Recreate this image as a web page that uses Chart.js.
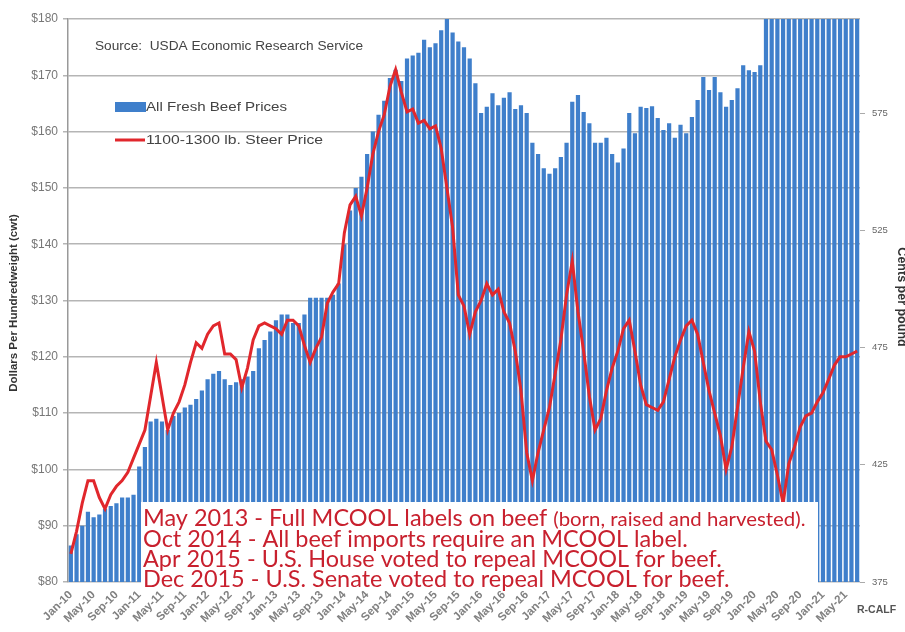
<!DOCTYPE html>
<html>
<head>
<meta charset="utf-8">
<script src="https://cdn.jsdelivr.net/npm/chart.js@4.4.1/dist/chart.umd.min.js"></script>
<style>
html,body{margin:0;padding:0;background:#fff;}
canvas{display:block;}
</style>
</head>
<body>
<canvas id="c" width="905" height="632"></canvas>
<script>
// ---------- data ----------
const monthNames = ['Jan','Feb','Mar','Apr','May','Jun','Jul','Aug','Sep','Oct','Nov','Dec'];
const yearNames = ['10','11','12','13','14','15','16','17','18','19','20','21'];
const monthCount = 139; // Jan-10 .. Jul-21
const categories = [];
for (const yy of yearNames) for (const mm of monthNames) {
  if (categories.length < monthCount) categories.push(mm + '-' + yy);
}

const beefPrices = [
  86.5, 88.5, 90, 92.5, 91.5, 92, 93, 93.5, 94, 95, 95, 95.5,
  100.5, 104, 108.5, 109, 108.5, 107, 109.5, 110, 111, 111.5, 112.5, 114,
  116, 117, 117.5, 116, 115, 115.5, 116, 116.5, 117.5, 121.5, 123, 124.5,
  126.5, 127.5, 127.5, 126, 126, 127.5, 130.5, 130.5, 130.5, 130.5, 131, 133,
  140, 146, 150, 152, 156, 160, 163, 165.5, 169.5, 171, 169, 173,
  173.5, 174, 176.3, 175, 175.7, 178, 180, 177.6, 176, 175, 173, 168.6,
  163.3, 164.4, 166.8, 164.7, 166, 167, 164, 164.7, 163.3, 158, 156, 153.5,
  152.5, 153.5, 155.5, 158, 165.3, 166.5, 163.5, 161.5, 158, 158, 158.9, 156,
  154.5, 157, 163.3, 159.7, 164.4, 164.2, 164.5, 162.4, 160.3, 161.5, 158.9, 161.2,
  159.7, 162.6, 165.6, 169.7, 167.4, 169.7, 167, 164.4, 165.6, 167.7, 171.8, 170.9,
  170.6, 171.8, 183, 186, 188, 190, 187, 185, 184, 186, 188, 187,
  185, 186, 188, 189, 187, 186, 188
];

const steerPrices = [
  85, 89, 94, 98, 98, 95, 93, 95.5, 97, 98, 99.5, 102,
  104.5, 107, 113, 119, 113, 107, 110, 112, 115, 119, 122.5, 121.5,
  124, 125.5, 126, 120.5, 120.5, 119.5, 114.5, 118, 123, 125.5, 126, 125.5,
  125, 124, 126.5, 126.5, 125.5, 122, 119, 121.5, 123.5, 129.5, 131.5, 133,
  142, 147, 148.5, 145, 150, 156, 160, 163, 168, 171, 167, 163.5,
  164, 161.5, 162, 160.5, 161, 157, 150, 143, 131, 129, 124, 128,
  130, 133, 131, 132, 128, 126, 121, 114, 103, 98, 103, 107,
  111, 117, 123, 131, 137, 128, 121, 113, 107, 109, 114, 118,
  121, 125, 126.5, 121, 115, 111.5, 111, 110.5, 112, 116, 120, 123,
  125.5, 126.5, 124, 119, 114, 110, 106, 100, 104, 111, 118, 124.5,
  121, 112, 105, 103.5, 99, 94, 101, 104, 107.5, 109.5, 110, 112,
  113.6, 116, 118.5, 120, 120, 120.5, 121
];

const leftTickValues = [80, 90, 100, 110, 120, 130, 140, 150, 160, 170, 180];
const rightTickValues = [375, 425, 475, 525, 575];
const rightTickLabels = ['375', '425', '475', '525', '575'];

const seriesNames = ['All Fresh Beef Prices', '1100-1300 lb. Steer Price'];
const leftAxisTitle = 'Dollars Per Hundredweight (cwt)';
const rightAxisTitle = 'Cents per pound';
const sourceText = 'Source:  USDA Economic Research Service';
const brandText = 'R-CALF';
const annotationLines = [
  [['May 2013', 'big'], [' - Full MCOOL labels on beef ', 'big'], ['(born, raised and harvested).', 'small']],
  [['Oct 2014', 'big'], [' - All beef imports require an MCOOL label.', 'big']],
  [['Apr 2015', 'big'], [' - U.S. House voted to repeal MCOOL for beef.', 'big']],
  [['Dec 2015', 'big'], [' - U.S. Senate voted to repeal MCOOL for beef.', 'big']]
];

// ---------- colours ----------
const BAR_BLUE = '#3f7fcb';
const LINE_RED = '#e1272c';
const NOTE_RED = '#c8202e';
const SANS = '"Liberation Sans", Arial, sans-serif';

function fitText(ctx, text, x, y, width) {
  const w = ctx.measureText(text).width;
  ctx.save();
  ctx.translate(x, y);
  ctx.scale(width / w, 1);
  ctx.fillText(text, 0, 0);
  ctx.restore();
}

// ---------- decorations ----------
const decor = {
  id: 'decor',
  afterDraw(chart) {
    const ctx = chart.ctx;
    ctx.save();

    // source
    ctx.fillStyle = '#444';
    ctx.font = '12px ' + SANS;
    ctx.textBaseline = 'middle';
    ctx.textAlign = 'left';
    fitText(ctx, sourceText, 95, 47, 268);

    // legend
    const ds = chart.data.datasets;
    ctx.fillStyle = ds[0].backgroundColor;
    ctx.fillRect(115, 102, 31, 10);
    ctx.fillStyle = '#444';
    ctx.font = '13px ' + SANS;
    fitText(ctx, ds[0].label, 146, 107, 141);
    ctx.strokeStyle = ds[1].borderColor;
    ctx.lineWidth = 3;
    ctx.beginPath(); ctx.moveTo(115, 140); ctx.lineTo(145, 140); ctx.stroke();
    fitText(ctx, ds[1].label, 146, 140, 177);

    // left axis title
    ctx.save();
    ctx.translate(14, 303);
    ctx.rotate(-Math.PI / 2);
    ctx.textAlign = 'center';
    ctx.font = 'bold 11.5px ' + SANS;
    ctx.fillStyle = '#333';
    ctx.fillText(leftAxisTitle, 0, 0);
    ctx.restore();

    // right axis title (partly off canvas as in the source)
    ctx.save();
    ctx.translate(901, 297);
    ctx.rotate(Math.PI / 2);
    ctx.textAlign = 'center';
    ctx.font = 'bold 12.5px ' + SANS;
    ctx.fillStyle = '#333';
    ctx.fillText(rightAxisTitle, 0, 0);
    ctx.restore();

    // brand
    ctx.font = 'bold 10.5px ' + SANS;
    ctx.fillStyle = '#555';
    ctx.fillText(brandText, 857, 610);

    // annotation box
    ctx.fillStyle = '#fff';
    ctx.fillRect(141, 502, 677, 89);
    ctx.textBaseline = 'alphabetic';
    const sizes = { big: 23, small: 20 };
    const baselines = [526, 547, 567, 587];
    const sx = 1.02;
    annotationLines.forEach((parts, li) => {
      let x = 0;
      ctx.save();
      ctx.translate(143, baselines[li]);
      ctx.scale(sx, 1);
      ctx.fillStyle = NOTE_RED;
      for (const [txt, sz] of parts) {
        ctx.font = sizes[sz] + 'px Lato, "Open Sans", sans-serif';
        ctx.fillText(txt, x, 0);
        x += ctx.measureText(txt).width;
      }
      ctx.restore();
    });

    ctx.restore();
  }
};

new Chart(document.getElementById('c'), {
  data: {
    labels: categories,
    datasets: [
      {
        type: 'bar',
        label: seriesNames[0],
        data: beefPrices,
        backgroundColor: BAR_BLUE,
        borderWidth: 0,
        barPercentage: 0.74,
        categoryPercentage: 1,
        yAxisID: 'y',
        order: 2
      },
      {
        type: 'line',
        label: seriesNames[1],
        data: steerPrices,
        borderColor: LINE_RED,
        backgroundColor: LINE_RED,
        borderWidth: 3,
        pointRadius: 0,
        tension: 0,
        yAxisID: 'y',
        order: 1
      }
    ]
  },
  options: {
    responsive: false,
    devicePixelRatio: 1,
    animation: false,
    layout: { padding: { top: 19, left: 0, right: 0, bottom: 0 } },
    plugins: { legend: { display: false }, tooltip: { enabled: false }, title: { display: false } },
    scales: {
      x: {
        type: 'category',
        offset: true,
        grid: { display: false, drawTicks: false },
        border: { display: false },
        ticks: {
          autoSkip: false,
          maxRotation: 45,
          minRotation: 45,
          padding: 6,
          color: '#808080',
          font: { size: 11.5, family: SANS, weight: 'bold' },
          callback: (v, i) => (i % 4 === 0 ? categories[i] : '')
        },
        afterFit: s => { s.height = 50; }
      },
      y: {
        position: 'left',
        min: 80,
        max: 180,
        afterBuildTicks: s => { s.ticks = leftTickValues.map(v => ({ value: v })); },
        grid: { color: '#b5b5b5', lineWidth: 1.5, tickLength: 5, drawTicks: true },
        border: { color: '#999', width: 1.5 },
        ticks: {
          color: '#777',
          padding: 5,
          font: { size: 12, family: SANS },
          callback: v => '$' + v
        },
        afterFit: s => { s.width = 68; }
      },
      y2: {
        position: 'right',
        min: 375,
        max: 615.1,
        afterBuildTicks: s => { s.ticks = rightTickValues.map(v => ({ value: v })); },
        grid: { drawOnChartArea: false, color: '#aaa', tickLength: 5 },
        border: { display: false },
        ticks: {
          color: '#666',
          padding: 7,
          font: { size: 9.5, family: SANS },
          callback: v => rightTickLabels[rightTickValues.indexOf(v)] ?? ''
        },
        afterFit: s => { s.width = 45; }
      }
    }
  },
  plugins: [decor]
});
</script>
</body>
</html>
